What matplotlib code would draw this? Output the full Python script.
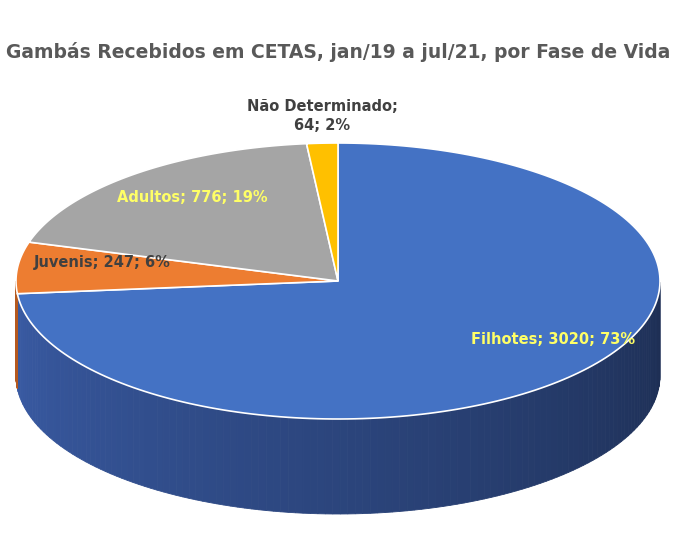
import numpy as np
import matplotlib.pyplot as plt
from matplotlib.patches import Polygon
from matplotlib.colors import to_rgb

# data
labels = ['Filhotes', 'Juvenis', 'Adultos', 'Não Determinado']
values = [3020, 247, 776, 64]
percents = ['73%', '6%', '19%', '2%']
colors = ['#4472C4', '#ED7D31', '#A5A5A5', '#FFC000']
side_colors = ['#3A5CA6', '#B85A1E', '#7E7E7E', '#C89600']
text_colors = ['#FFFF66', '#404040', '#FFFF66', '#404040']

fig = plt.figure(figsize=(6.76, 5.49), dpi=100)
ax = fig.add_axes([0, 0, 1, 1])
ax.set_xlim(0, 676)
ax.set_ylim(549, 0)
ax.axis('off')

cx, cy, rx, ry, depth = 338, 281, 322, 138, 95

def pt(a, dy=0):
    # a in degrees, standard orientation (ccw from +x), screen y down
    r = np.radians(a)
    return cx + rx * np.cos(r), cy - ry * np.sin(r) + dy

# clockwise from 12 o'clock
total = sum(values)
bounds = [90.0]
for v in values:
    bounds.append(bounds[-1] - 360.0 * v / total)

# side (front half only: angles 180..360)
for i in range(len(values)):
    a0, a1 = bounds[i + 1], bounds[i]
    base = np.array(to_rgb(side_colors[i]))
    angs = np.linspace(a0, a1, 200)
    for a, b in zip(angs[:-1], angs[1:]):
        m = (a + b) / 2 % 360
        if not (180 <= m <= 360):
            continue
        t = (m - 180) / 180.0          # 0 left, 1 right
        shade = 1.0 - 0.5 * t
        col = np.clip(base * shade, 0, 1)
        quad = [pt(a), pt(b), pt(b, depth), pt(a, depth)]
        ax.add_patch(Polygon(quad, closed=True, fc=col, ec=col, lw=0.6))

# top face
for i in range(len(values)):
    angs = np.linspace(bounds[i], bounds[i + 1], 200)
    poly = [(cx, cy)] + [pt(a) for a in angs]
    ax.add_patch(Polygon(poly, closed=True, fc=colors[i], ec='white', lw=1.2, zorder=3))

# labels
label_pos = [(553, 340), (102, 263), (192, 197), (322, 116)]
for i in range(len(values)):
    if labels[i] == 'Não Determinado':
        txt = f'{labels[i]};\n{values[i]}; {percents[i]}'
    else:
        txt = f'{labels[i]}; {values[i]}; {percents[i]}'
    ax.text(*label_pos[i], txt, ha='center', va='center', fontsize=10.5,
            fontweight='bold', color=text_colors[i], zorder=5, linespacing=1.3)

ax.text(338, 52, 'Gambás Recebidos em CETAS, jan/19 a jul/21, por Fase de Vida',
        ha='center', va='center', fontsize=13.5, fontweight='bold', color='#595959')

fig.savefig('out.png', dpi=100)
